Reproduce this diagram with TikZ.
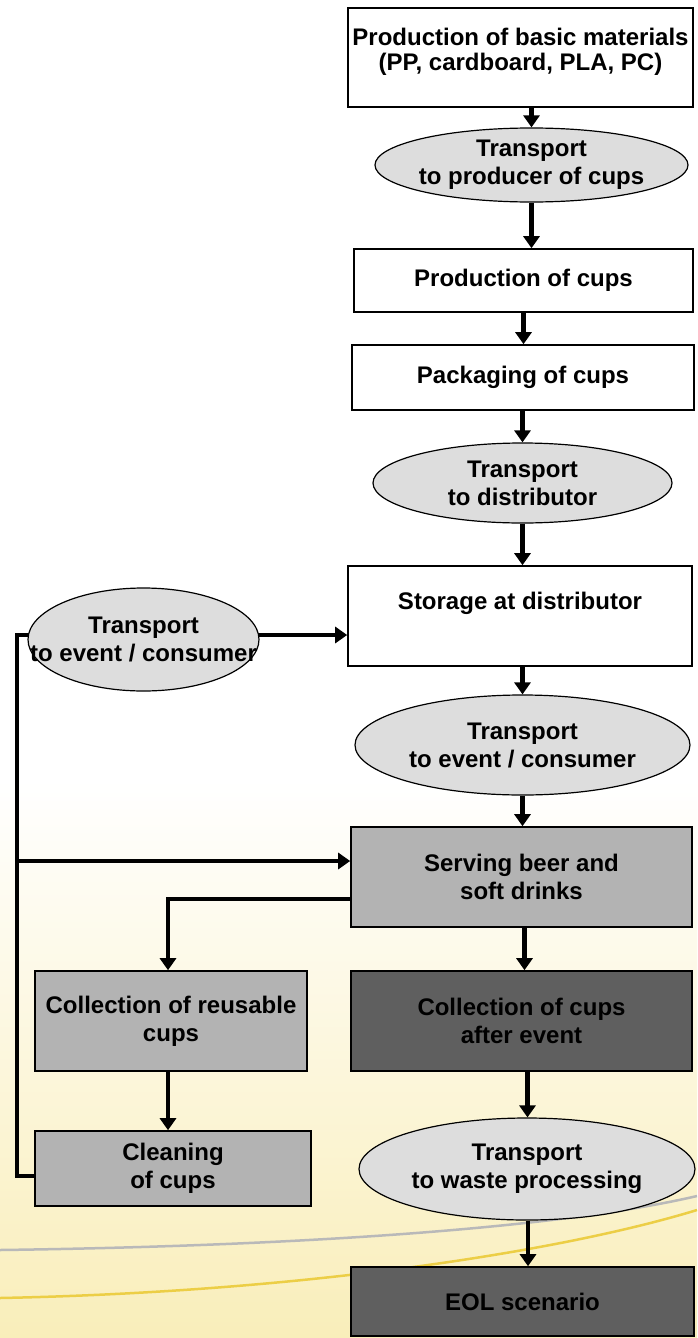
\documentclass[tikz,border=0pt]{standalone}
\usepackage{fontspec}
\setmainfont{Liberation Sans}
\usetikzlibrary{shapes.geometric,arrows.meta,calc}
\pgfdeclarelayer{bg}\pgfdeclarelayer{conn}
\pgfsetlayers{bg,conn,main}
\definecolor{ellfill}{HTML}{DDDDDD}
\definecolor{midgray}{HTML}{B3B3B3}
\definecolor{darkbox}{HTML}{5F5F5F}
\definecolor{creamy}{RGB}{249,238,186}
\definecolor{goldline}{RGB}{236,206,70}
\begin{document}
\begin{tikzpicture}[x=1pt,y=-1pt,
  txt/.style={font=\fontsize{24}{28}\selectfont\bfseries, align=center, text=black},
  boxw/.style={txt, rectangle, draw=black, line width=1.6pt, fill=white, inner sep=0pt},
  boxg/.style={boxw, fill=midgray},
  boxd/.style={boxw, fill=darkbox},
  ell/.style={ellipse, draw=black, line width=1.2pt, fill=ellfill, inner sep=0pt},
  lbl/.style={txt},
  arr/.style={line width=4.8pt, -{Triangle[width=16pt,length=12pt]}},
  conline/.style={line width=4.8pt},
]
\useasboundingbox (0,0) rectangle (697,1338);
% background
\begin{pgfonlayer}{bg}
  \fill[white] (0,0) rectangle (697,1338);
  \shade[top color=white, bottom color=creamy] (0,780) rectangle (697,1338);
  \draw[gray!55, line width=2.5pt] (0,1250) .. controls (300,1246) and (560,1228) .. (697,1196);
  \draw[goldline, line width=2.5pt] (0,1298) .. controls (300,1292) and (560,1252) .. (697,1210);
\end{pgfonlayer}

% main column
\node[boxw, minimum width=345, minimum height=99, label={[lbl, yshift=6pt]center:Production of basic materials\\[-3pt](PP, cardboard, PLA, PC)}] (b1) at (520.5,57.5) {};
\node[ell, minimum width=313, minimum height=74, label={[lbl]center:Transport\\to producer of cups}] (t1) at (531.5,165) {};
\node[boxw, minimum width=339, minimum height=63] (b2) at (523.5,280.5) {Production of cups};
\node[boxw, minimum width=342, minimum height=65] (b3) at (523,377.5) {Packaging of cups};
\node[ell, minimum width=299, minimum height=80, label={[lbl]center:Transport\\to distributor}] (t2) at (522.5,483) {};
\node[boxw, minimum width=344, minimum height=100] (b4) at (520,616) {Storage at distributor\\[2pt]~};
\node[ell, minimum width=335, minimum height=100, label={[lbl]center:Transport\\to event / consumer}] (t3) at (522.5,745) {};
\node[boxg, minimum width=341, minimum height=100] (b5) at (521.5,877) {Serving beer and\\soft drinks};
\node[boxd, minimum width=341, minimum height=100] (b6) at (521.5,1021) {Collection of cups\\after event};
\node[ell, minimum width=336, minimum height=102, label={[lbl]center:Transport\\to waste processing}] (t4) at (527,1169) {};
\node[boxd, minimum width=343, minimum height=69] (b7) at (522.5,1301.5) {EOL scenario};

% left column
\node[ell, minimum width=231, minimum height=103, label={[lbl]center:Transport\\to event / consumer}] (tl) at (143.5,639.5) {};
\node[boxg, minimum width=272, minimum height=100] (b8) at (171,1021) {Collection of reusable\\cups};
\node[boxg, minimum width=276, minimum height=75] (b9) at (173,1168.5) {Cleaning\\of cups};

\coordinate (L1) at (17,1176);
\coordinate (L2) at (17,861);
\coordinate (L3) at (17,635);

\begin{pgfonlayer}{conn}
  \draw[arr] (b1.south -| t1.south) -- (t1.north);
  \draw[arr] (t1.south) -- (t1.south |- b2.north);
  \draw[arr] (b2.south) -- (b2.south |- b3.north);
  \draw[arr] (b3.south -| t2.north) -- (t2.north);
  \draw[arr] (t2.south) -- (t2.south |- b4.north);
  \draw[arr] (b4.south -| t3.north) -- (t3.north);
  \draw[arr] (t3.south) -- (t3.south |- b5.north);
  \draw[arr] ([xshift=3pt]b5.south) -- ([xshift=3pt]b5.south |- b6.north);
  \draw[arr] ([xshift=6pt]b6.south) -- ([xshift=6pt]b6.south |- t4.north);
  \draw[arr] ([xshift=1pt]t4.south) -- ([xshift=1pt]t4.south |- b7.north);
  \draw[arr] ([xshift=-3pt]b8.south) -- ([xshift=-3pt]b8.south |- b9.north);
  \draw[arr] ([yshift=-22pt]b5.west) -| ([xshift=-3pt]b8.north);
  \draw[conline] (L1 -| b9.west) -- (L1) -- (L3) -- (L3 -| tl.center);
  \draw[arr] (L3 -| tl.center) -- (L3 -| b4.west);
  \draw[arr] (L2) -- (L2 -| b5.west);
\end{pgfonlayer}
\end{tikzpicture}
\end{document}
